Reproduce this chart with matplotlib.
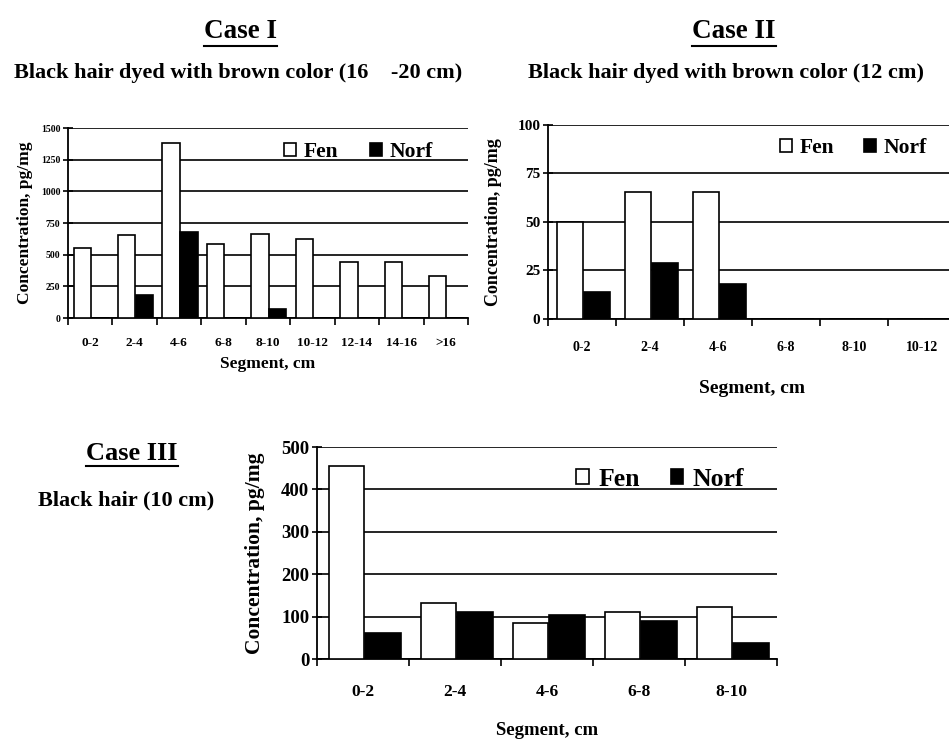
import numpy as np
import matplotlib
matplotlib.use("Agg")
import matplotlib.pyplot as plt
from matplotlib.lines import Line2D

# data (pg/mg)
seg_1 = ['0-2', '2-4', '4-6', '6-8', '8-10', '10-12', '12-14', '14-16', '>16']
fen_1 = [556, 655, 1385, 585, 662, 622, 441, 441, 328]
norf_1 = [0, 178, 677, 0, 73, 0, 0, 0, 0]

seg_2 = ['0-2', '2-4', '4-6', '6-8', '8-10', '10-12']
fen_2 = [50, 65.5, 65.5, 0, 0, 0]
norf_2 = [14, 29, 18, 0, 0, 0]

seg_3 = ['0-2', '2-4', '4-6', '6-8', '8-10']
fen_3 = [455, 131, 86, 112, 123]
norf_3 = [61, 110, 103, 89, 37]

plt.rcParams['font.family'] = ['Liberation Serif', 'DejaVu Serif']
plt.rcParams['font.weight'] = 'bold'

W, H = 949, 746
fig = plt.figure(figsize=(W / 100, H / 100), dpi=100)


def px_axes(left, top, right, bottom):
    # axes placed by pixel box in the reference
    return fig.add_axes([left / W, 1 - bottom / H, (right - left) / W, (bottom - top) / H])


def bar_panel(ax, cats, fen, norf, ymax, step, xtick_fs, ytick_fs, xpad,
              ylab_fs, ylab_pad, xlab_fs, xlab_pad, leg_fs, leg_xy, hl, colsp):
    x = np.arange(len(cats))
    ax.bar(x - 0.18, fen, 0.39, color='white', edgecolor='black', lw=1.2, label='Fen', zorder=3)
    ax.bar(x + 0.22, norf, 0.39, color='black', edgecolor='black', lw=1.2, label='Norf', zorder=3)
    ax.set_xlim(-0.5, len(cats) - 0.5)
    ax.set_ylim(0, ymax)
    ax.set_yticks(np.arange(0, ymax + step / 2, step))
    ax.yaxis.grid(True, color='black', lw=1.2)
    ax.set_axisbelow(True)
    for s in ['top', 'right']:
        ax.spines[s].set_visible(False)
    ax.spines['left'].set_linewidth(1.3)
    ax.spines['bottom'].set_linewidth(1.3)
    ax.set_xticks(x)
    ax.set_xticklabels(cats, fontsize=xtick_fs, fontweight='bold')
    ax.set_xticks(np.arange(-0.5, len(cats), 1), minor=True)
    ax.tick_params(axis='x', which='major', length=0, pad=xpad)
    ax.tick_params(axis='x', which='minor', length=5, width=1.2, direction='out')
    ax.tick_params(axis='y', direction='inout', length=7, width=1.2, pad=2, labelsize=ytick_fs)
    for t in ax.get_yticklabels():
        t.set_fontweight('bold')
    ax.set_ylabel('Concentration, pg/mg', fontsize=ylab_fs, fontweight='bold', labelpad=ylab_pad)
    ax.set_xlabel('Segment, cm', fontsize=xlab_fs, fontweight='bold', labelpad=xlab_pad)
    ax.legend(ncol=2, frameon=False, loc='center right', bbox_to_anchor=leg_xy,
              fontsize=leg_fs, borderaxespad=0, borderpad=0,
              handlelength=hl, handleheight=hl, handletextpad=0.35,
              columnspacing=colsp)
    return ax


# Case I
ax1 = px_axes(68, 128, 468, 318)
bar_panel(ax1, seg_1, fen_1, norf_1, 1500, 250, 9.5, 7, 14,
          12.5, 5.5, 12.5, 4.5, 15.5, (0.9125, 0.874), 0.56, 1.5)

# Case II (cut at the right edge, as in the original)
ax2 = px_axes(548, 125, 956, 319)
bar_panel(ax2, seg_2, fen_2, norf_2, 100, 25, 10, 11, 16,
          13, 11, 14, 18.5, 15.5, (0.929, 0.881), 0.56, 1.4)

# Case III
ax3 = px_axes(317, 447, 777, 659)
bar_panel(ax3, seg_3, fen_3, norf_3, 500, 100, 12.5, 13.5, 18,
          15.5, 11.5, 13.5, 16, 18.5, (0.928, 0.849), 0.5, 1.2)

# headings
titles = []
titles.append(fig.text(240 / W, 1 - 32 / H, 'Case I', fontsize=19.5, ha='center', va='center'))
titles.append(fig.text(734 / W, 1 - 32 / H, 'Case II', fontsize=19.5, ha='center', va='center'))
titles.append(fig.text(132 / W, 1 - 454 / H, 'Case III', fontsize=19, ha='center', va='center'))
fig.text(238 / W, 1 - 73 / H, 'Black hair dyed with brown color (16    -20 cm)',
         fontsize=16, ha='center', va='center')
fig.text(726 / W, 1 - 73 / H, 'Black hair dyed with brown color (12 cm)',
         fontsize=16, ha='center', va='center')
fig.text(126 / W, 1 - 500 / H, 'Black hair (10 cm)', fontsize=16, ha='center', va='center')

# underline the case headings
fig.canvas.draw()
r = fig.canvas.get_renderer()
for t in titles:
    bb = t.get_window_extent(r)
    yline = (bb.y0 - 1) / H
    fig.add_artist(Line2D([bb.x0 / W, bb.x1 / W], [yline, yline], color='black', lw=1.5))

fig.savefig('out.png', dpi=100)
